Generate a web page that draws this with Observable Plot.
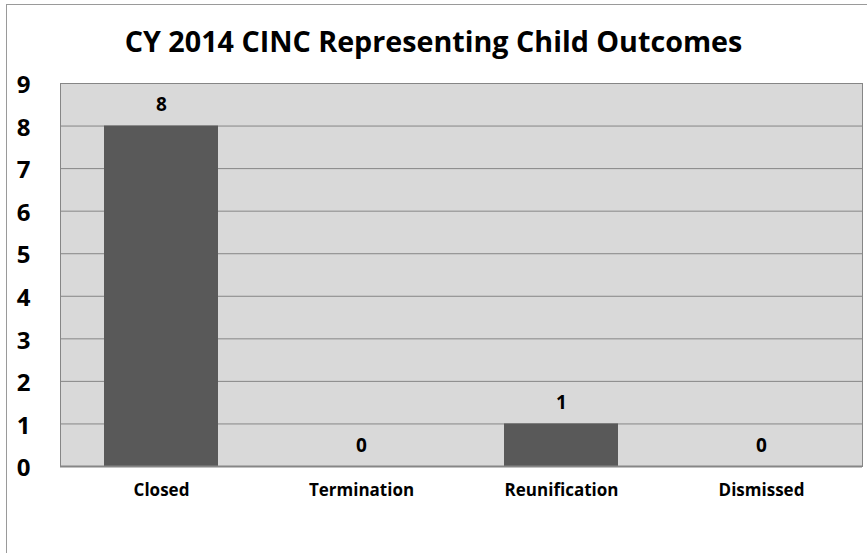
<!DOCTYPE html>
<html>
<head>
<meta charset="utf-8">
<script src="https://cdn.jsdelivr.net/npm/d3@7"></script>
<script src="https://cdn.jsdelivr.net/npm/@observablehq/plot@0.6"></script>
<style>
  html, body { margin: 0; padding: 0; background: #fff; }
  #chart {
    position: relative;
    width: 867px;
    height: 553px;
    overflow: hidden;
    font-family: "Open Sans", "Liberation Sans", sans-serif;
  }
  #frame {
    position: absolute;
    left: 6px; top: 4px; width: 870px; height: 560px;
    border-left: 1.5px solid #9a9a9a;
    border-top: 1.5px solid #9a9a9a;
    box-sizing: border-box;
  }
  #title {
    position: absolute;
    left: 0; top: 22px; width: 867px;
    text-align: center;
    font-weight: bold;
    font-size: 28.7px;
    line-height: 38px;
    color: #000;
  }
  #chart svg { position: absolute; left: 0; top: 0; }
</style>
</head>
<body>
<div id="chart">
  <div id="frame"></div>
  <div id="title">CY 2014 CINC Representing Child Outcomes</div>
</div>
<script>
// Outcome categories and their counts for CY 2014
const categories = ["Closed", "Termination", "Reunification", "Dismissed"];
const counts = [8, 0, 1, 0];
const yTicks = [0, 1, 2, 3, 4, 5, 6, 7, 8, 9];

const rows = categories.map((c, i) => ({category: c, count: counts[i]}));

const chart = Plot.plot({
  width: 867,
  height: 553,
  marginLeft: 60,
  marginRight: 5,
  marginTop: 83,
  marginBottom: 87,
  style: {fontFamily: "'Open Sans', 'Liberation Sans', sans-serif", background: "transparent", overflow: "visible"},
  x: {domain: categories, paddingInner: 0.43, paddingOuter: 0.215, label: null},
  y: {domain: [0, 9], ticks: yTicks, label: null},
  marks: [
    Plot.frame({fill: "#d9d9d9", stroke: "#868686"}),
    Plot.gridY(yTicks, {stroke: "#868686", strokeOpacity: 1, strokeWidth: 1}),
    Plot.barY(rows, {x: "category", y: "count", fill: "#595959"}),
    Plot.ruleY([0], {stroke: "#868686", strokeWidth: 2}),
    Plot.text(rows, {
      x: "category", y: "count", text: d => String(d.count),
      dy: -21, fontWeight: "bold", fontSize: 19, fill: "#000"
    }),
    Plot.axisY(yTicks, {
      tickSize: 0, tickPadding: 30, fontSize: 24, fontWeight: "bold",
      fill: "#000", label: null, dy: 2
    }),
    Plot.axisX(categories, {
      tickSize: 0, tickPadding: 17, fontSize: 17, fontWeight: "bold",
      fill: "#000", label: null
    })
  ]
});

document.getElementById("chart").appendChild(chart);
</script>
</body>
</html>
